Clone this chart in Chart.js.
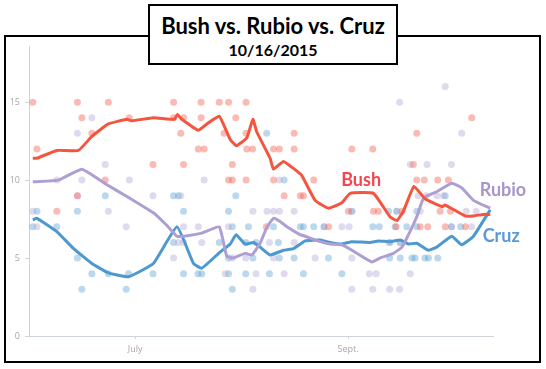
<!DOCTYPE html>
<html><head><meta charset="utf-8">
<script src="https://cdn.jsdelivr.net/npm/chart.js@4.4.0/dist/chart.umd.min.js"></script>
<style>
html,body{margin:0;padding:0;background:#fff;}
#wrap{position:relative;width:546px;height:369px;overflow:hidden;background:#fff;}
#c{position:absolute;left:0;top:0;}
#frame{position:absolute;left:4px;top:35px;width:537px;height:328px;border:2px solid #000;box-sizing:border-box;pointer-events:none;}
#title{position:absolute;left:148px;top:4px;width:250px;height:61px;border:2px solid #000;box-sizing:border-box;background:#fff;text-align:center;font-family:Lato,"Open Sans",sans-serif;font-weight:bold;color:#000;}
#t1{font-size:22px;line-height:22px;margin-top:9px;white-space:nowrap;}
#t2{font-size:16px;line-height:16px;margin-top:5px;}
</style></head>
<body>
<div id="wrap">
<canvas id="c" width="546" height="369"></canvas>
<div id="frame"></div>
<div id="title"><div id="t1">Bush vs. Rubio vs. Cruz</div><div id="t2">10/16/2015</div></div>
</div>
<script>
// x values: days since June 1, 2015
const xTickDays = [30, 92];
const xTickLabels = ['July', 'Sept.'];
const yTicks = [0, 5, 10, 15];

// Trend lines [day, value]
const bushTrend = [[0.2,11.4],[1.4,11.4],[7.2,11.9],[13.5,11.9],[17.4,12.8],[22.2,13.6],[27.6,13.9],[29.1,13.8],[35.3,14.0],[41.4,13.9],[42.3,14.2],[43.6,13.9],[48.4,13.2],[50.9,13.6],[54.5,14.1],[57.7,12.6],[59.5,12.2],[62.5,12.7],[64.3,13.9],[65.4,13.1],[69.3,11.4],[70.3,10.7],[73.2,11.2],[76.1,10.75],[78.5,10.3],[82.4,8.7],[86.3,8.2],[90.2,8.55],[92.6,9.15],[99.4,9.15],[104.2,7.65],[106.2,7.4],[108.1,8.0],[111.2,9.6],[114.4,8.8],[119.3,8.3],[120.3,8.4],[126.1,7.7],[128.5,7.7],[131.4,7.8],[133.4,7.8]];
const rubioTrend = [[0.2,9.9],[1.4,9.9],[7.7,10.0],[14.5,10.7],[21.8,9.7],[27.6,8.95],[35.3,7.9],[39.2,7.1],[42.2,6.4],[44.1,6.4],[49.4,6.6],[54.5,7.0],[56.7,5.1],[58.6,5.0],[62.0,5.3],[64.0,5.2],[66.4,5.95],[68.4,7.0],[70.3,7.55],[72.2,7.35],[74.2,7.0],[78.0,6.5],[79.5,6.4],[83.9,6.05],[86.8,5.9],[90.2,5.85],[93.1,5.5],[98.9,4.75],[101.3,5.0],[105.2,5.3],[107.7,5.7],[109.6,6.5],[112.0,7.65],[114.0,8.85],[117.8,9.25],[122.2,9.8],[125.1,9.5],[128.5,8.7],[133.4,8.2]];
const cruzTrend = [[0.2,7.45],[1.4,7.55],[7.2,6.7],[12.1,5.6],[17.4,4.65],[22.2,4.05],[28.1,3.8],[35.3,4.65],[42.2,7.0],[47.0,4.65],[49.4,4.35],[54.8,5.4],[57.7,5.9],[59.4,6.5],[62.0,5.9],[64.5,6.0],[66.4,5.7],[69.3,5.2],[73.2,5.5],[76.1,5.6],[79.5,6.1],[83.9,6.15],[86.8,6.0],[90.2,5.9],[93.1,6.05],[98.4,6.0],[100.8,6.1],[104.2,6.05],[107.2,6.15],[109.6,5.9],[112.0,5.95],[115.4,5.5],[117.8,5.7],[122.2,6.4],[125.1,5.85],[128.5,6.4],[133.4,8.1]];

// Individual polls [day, value]
const bushPolls = [[0.2,15],[13.2,15],[22.2,15],[41.2,15],[49.2,15],[54.5,15],[57.2,15],[62.3,15],
[14.5,14],[28.3,14],[41.2,14],[44.1,14],[49.2,14],[59.3,14],[128.0,14],
[17.4,13],[43.3,13],[55.9,13],[62.3,13],[76.3,13],[112.0,13],
[1.4,12],[48.4,12],[50.1,12],[62.5,12],[64.2,12],[70.3,12],[72.0,12],[76.3,12],[93.1,12],[99.2,12],
[35.2,11],[44.1,11],[58.3,11],[111.0,11],
[21.3,10],[57.2,10],[58.3,10],[62.3,10],[70.3,10],[82.0,10],[112.0,10],[114.2,10],[118.1,10],[121.2,10],
[13.2,9],[73.4,9],[78.1,9],[79.0,9],
[7.2,8],[92.1,8],[99.4,8],[100.8,8],[107.7,8],[118.8,8],[121.8,8],
[68.2,7],[86.3,7],[106.0,7],[113.0,7],[115.2,7],[120.3,7],[126.2,7]];
const rubioPolls = [[120.3,16],[107.0,15],[17.4,14],[13.2,13],[125.1,13],
[21.3,11],[110.1,11],[115.0,11],[122.1,11],
[7.2,10],[14.5,10],[28.3,10],[50.1,10],[72.0,10],
[13.2,9],[35.2,9],[43.3,9],[112.4,9],[114.7,9],[117.9,9],[119.8,9],
[0.2,8],[22.2,8],[64.3,8],[68.4,8],[70.3,8],[72.0,8],[76.3,8],[93.1,8],[106.2,8],[113.0,8],[126.4,8],[129.3,8],
[1.4,7],[27.4,7],[44.1,7],[48.4,7],[57.2,7],[85.0,7],[90.2,7],[92.3,7],[122.1,7],[128.0,7],
[42.6,6],[44.1,6],[49.4,6],[69.1,6],[76.3,6],[104.1,6],[107.2,6],
[41.2,5],[58.3,5],[62.2,5],[70.3,5],[82.4,5],[93.1,5],
[56.2,4],[65.2,4],[73.4,4],[98.2,4],[100.2,4],[110.1,4],
[64.3,3],[93.1,3],[99.2,3],[104.1,3],[107.0,3]];
const cruzPolls = [[68.3,13],[73.4,10],
[21.3,9],[41.2,9],[42.6,9],[59.3,9],[120.3,9],
[1.4,8],[13.2,8],[44.1,8],[57.2,8],[93.1,8],[103.8,8],[106.2,8],[112.0,8],
[0.2,7],[7.2,7],[58.3,7],[63.0,7],[70.3,7],[78.1,7],[79.0,7],[82.0,7],[85.0,7],[99.2,7],[101.1,7],[105.7,7],[109.1,7],[112.0,7],[122.1,7],[124.8,7],
[41.2,6],[54.5,6],[62.2,6],[65.2,6],[71.7,6],[104.1,6],[107.2,6],
[13.2,5],[57.2,5],[64.3,5],[72.0,5],[76.3,5],[86.3,5],[104.1,5],[107.2,5],[110.6,5],[111.5,5],[114.4,5],[115.4,5],[118.1,5],
[17.4,4],[22.2,4],[28.1,4],[35.2,4],[44.1,4],[48.3,4],[49.4,4],[57.2,4],[62.2,4],[69.1,4],[79.0,4],[90.2,4],
[14.5,3],[27.4,3],[58.3,3]];

const seriesNames = ['Bush', 'Rubio', 'Cruz'];
const lineColors = ['#f4553f', '#ae9fd3', '#4d98cf'];
const dotColors = ['rgba(246,105,92,0.45)', 'rgba(178,166,214,0.42)', 'rgba(92,162,212,0.42)'];
const textColors = ['#f5454f', '#a696c9', '#5a9ad8'];
const labelAnchors = [[95.8, 10.0], [137.1, 9.36], [136.6, 6.41]];

const toXY = arr => arr.map(p => ({x: p[0], y: p[1]}));
const trends = [bushTrend, rubioTrend, cruzTrend];
const polls = [bushPolls, rubioPolls, cruzPolls];

const datasets = [];
trends.forEach((t, i) => datasets.push({
  label: seriesNames[i] + ' trend', data: toXY(t), showLine: true,
  borderColor: lineColors[i], borderWidth: 3, pointRadius: 0, tension: 0.12,
  fill: false, order: i
}));
polls.forEach((p, i) => datasets.push({
  label: seriesNames[i] + ' polls', data: toXY(p), showLine: false,
  pointRadius: 3.5, pointBorderWidth: 0, backgroundColor: dotColors[i],
  borderColor: 'rgba(0,0,0,0)', order: 10 + i
}));

const labelPlugin = {
  id: 'seriesLabels',
  afterDatasetsDraw(chart) {
    const {ctx, scales: {x, y}} = chart;
    ctx.save();
    ctx.font = 'bold 18px Lato';
    ctx.textAlign = 'center';
    ctx.textBaseline = 'middle';
    seriesNames.forEach((n, i) => {
      ctx.fillStyle = textColors[i];
      ctx.fillText(n, x.getPixelForValue(labelAnchors[i][0]), y.getPixelForValue(labelAnchors[i][1]));
    });
    ctx.restore();
  }
};

const tickFont = {family: 'Open Sans', size: 9};
new Chart(document.getElementById('c'), {
  type: 'scatter',
  data: {datasets},
  plugins: [labelPlugin],
  options: {
    responsive: false, animation: false, devicePixelRatio: 1,
    layout: {padding: {left: 0, right: 53, top: 46, bottom: 13}},
    plugins: {legend: {display: false}, tooltip: {enabled: false}, title: {display: false}},
    scales: {
      x: {
        type: 'linear', min: -0.9, max: 134.2,
        afterFit(s) { s.height = 20; },
        afterBuildTicks(s) { s.ticks = xTickDays.map(v => ({value: v})); },
        ticks: {
          callback: (v) => xTickLabels[xTickDays.indexOf(v)],
          font: tickFont, color: '#a8a8a8', padding: 5, maxRotation: 0, autoSkip: false
        },
        grid: {drawOnChartArea: false, tickLength: 3, color: '#cfd3da'},
        border: {color: '#cfd3da', width: 1}
      },
      y: {
        min: 0, max: 18.6,
        afterFit(s) { s.width = 29; },
        afterBuildTicks(s) { s.ticks = yTicks.map(v => ({value: v})); },
        ticks: {font: tickFont, color: '#a8a8a8', padding: 5},
        grid: {drawOnChartArea: false, tickLength: 4, color: '#cfd3da'},
        border: {color: '#cfd3da', width: 1}
      }
    }
  }
});
</script>
</body></html>
